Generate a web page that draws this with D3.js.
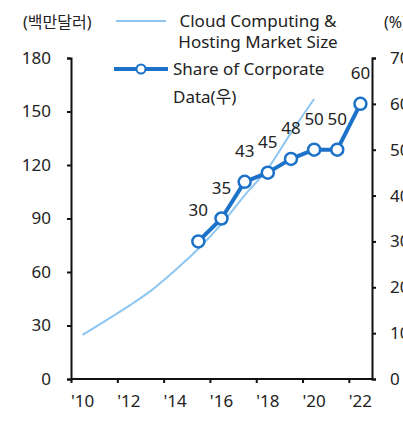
<!DOCTYPE html>
<html><head><meta charset="utf-8">
<script src="https://cdn.jsdelivr.net/npm/d3@7"></script>
<style>
body{margin:0;background:#fff;}
svg text{font-family:"Noto Sans","Noto Sans CJK KR",sans-serif;fill:#222;}
</style></head>
<body><svg id="c" width="403" height="429"></svg>
<script>
const years = [2010,2011,2012,2013,2014,2015,2016,2017,2018,2019,2020,2021,2022];
const tickYears = [2010,2012,2014,2016,2018,2020,2022];
const marketYears = [2010,2011,2012,2013,2014,2015,2016,2017,2018,2019,2020];
const marketSize = [24.7,32.7,41,50,61,73,87,103,118,138,157];
const shareYears = [2015,2016,2017,2018,2019,2020,2021,2022];
const shareValues = [30,35,43,45,48,50,50,60];
const leftTicks = [0,30,60,90,120,150,180];
const rightTicks = [0,10,20,30,40,50,60,70];
const leftTitle = "(백만달러)";
const rightTitle = "(%)";
const legend1 = ["Cloud Computing &","Hosting Market Size"];
const legend2 = ["Share of Corporate","Data(우)"];

const svg = d3.select("#c");
const L = 71, R = 372, T = 58, B = 379;
const dark = "#1b72c8", light = "#8ec6f2";

const x = d3.scaleBand().domain(years).range([L, R]);
const xc = d => x(d) + x.bandwidth()/2;
const yL = d3.scaleLinear().domain([0,180]).range([B, T]);
const yR = d3.scaleLinear().domain([0,70]).range([B, T]);

// axes
const gl = svg.append("g").attr("transform",`translate(${L},0)`)
  .call(d3.axisLeft(yL).tickValues(leftTicks).tickSize(4).tickPadding(16));
const gr = svg.append("g").attr("transform",`translate(${R},0)`)
  .call(d3.axisRight(yR).tickValues(rightTicks).tickSize(4).tickPadding(14));
const xBound = d3.scaleLinear().domain([2010,2023]).range([L,R]);
const gb = svg.append("g").attr("transform",`translate(0,${B})`)
  .call(d3.axisBottom(xBound).tickValues(tickYears).tickSize(4).tickFormat(""));
svg.append("g").selectAll("text").data(tickYears).join("text")
  .attr("x", d => xc(d)).attr("y", B + 28).attr("text-anchor","middle")
  .attr("font-size",17).text(d => "'" + String(d).slice(2));

[gl,gr,gb].forEach(g=>{
  g.select(".domain").attr("stroke","#111").attr("stroke-width",2);
  g.selectAll(".tick line").attr("stroke","#111").attr("stroke-width",2);
  g.selectAll(".tick text").attr("font-size",17).attr("fill","#222").attr("font-family",null);
});
gb.select(".domain").attr("d",`M${L},0H${R}`);

// titles
svg.append("text").attr("x",23).attr("y",28).attr("font-size",16).text(leftTitle);
svg.append("text").attr("x",384).attr("y",28).attr("font-size",16).text(rightTitle);

// market line
svg.append("path").datum(marketYears.map((d,i)=>[xc(d), yL(marketSize[i])]))
  .attr("fill","none").attr("stroke",light).attr("stroke-width",2)
  .attr("d", d3.line().curve(d3.curveMonotoneX));

// share line
const pts = shareYears.map((d,i)=>[xc(d), yR(shareValues[i])]);
svg.append("path").datum(pts).attr("fill","none").attr("stroke",dark)
  .attr("stroke-width",4).attr("stroke-linejoin","round").attr("d", d3.line());
svg.append("g").selectAll("circle").data(pts).join("circle")
  .attr("cx",d=>d[0]).attr("cy",d=>d[1]).attr("r",6)
  .attr("fill","#fff").attr("stroke",dark).attr("stroke-width",2.5);
svg.append("g").selectAll("text").data(shareValues).join("text")
  .attr("x",(d,i)=>pts[i][0]).attr("y",(d,i)=>pts[i][1]-25)
  .attr("text-anchor","middle").attr("font-size",17).text(d=>d);

// legend
svg.append("line").attr("x1",116).attr("x2",166).attr("y1",21).attr("y2",21)
  .attr("stroke",light).attr("stroke-width",2);
svg.append("text").attr("x",258).attr("y",27).attr("text-anchor","middle").attr("font-size",17).text(legend1[0]);
svg.append("text").attr("x",258).attr("y",48).attr("text-anchor","middle").attr("font-size",17).text(legend1[1]);
svg.append("line").attr("x1",114).attr("x2",168).attr("y1",69).attr("y2",69)
  .attr("stroke",dark).attr("stroke-width",4);
svg.append("circle").attr("cx",141).attr("cy",69).attr("r",4.5)
  .attr("fill","#fff").attr("stroke",dark).attr("stroke-width",2);
svg.append("text").attr("x",173).attr("y",75).attr("font-size",17).text(legend2[0]);
svg.append("text").attr("x",173).attr("y",103).attr("font-size",17).text(legend2[1]);
</script></body></html>
